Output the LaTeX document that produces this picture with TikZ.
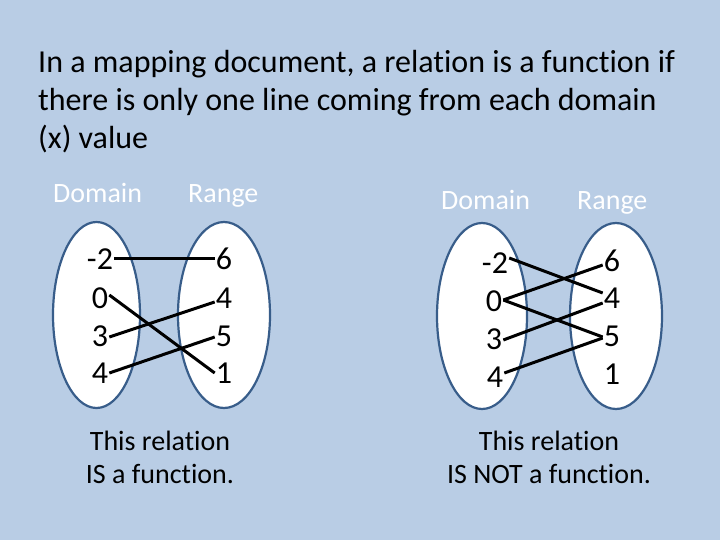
\documentclass[tikz,border=0pt]{standalone}
\usepackage{fontspec}
\setmainfont{Carlito}[RawFeature=-liga]
\definecolor{bg}{RGB}{185,205,229}
\definecolor{edge}{RGB}{56,93,138}
\begin{document}
\begin{tikzpicture}[x=1pt,y=-1pt,
  num/.style={font=\fontsize{32}{34}\selectfont,inner sep=1pt,anchor=center},
  head/.style={font=\fontsize{28}{30}\selectfont,text=white,anchor=base west,inner sep=0pt},
  titleline/.style={font=\fontsize{32}{38}\selectfont,anchor=base west,inner sep=0pt},
  link/.style={line width=3pt,black},
  setshape/.style={fill=white,draw=edge,line width=2.2pt},
  caption/.style={font=\fontsize{28}{33}\selectfont,align=center,anchor=center}]
\fill[bg] (0,0) rectangle (720,540);
\useasboundingbox (0,0) rectangle (720,540);
\node[titleline] (t1) at (38,73) {In a mapping document, a relation is a function if};
\node[titleline] (t2) at (38,111) {there is only one line coming from each domain};
\node[titleline] (t3) at (38,149) {(x) value};
% left panel
\node[head] (hd1) at (53,203) {Domain};
\node[head] (hr1) at (188,203) {Range};
\path[setshape] (96.5,315) ellipse [x radius=43.5, y radius=93];
\path[setshape] (224,315) ellipse [x radius=46, y radius=93];
\node[num] (a1) at (100,259) {-2};
\node[num] (a2) at (100,298) {0};
\node[num] (a3) at (100,336) {3};
\node[num] (a4) at (100,373) {4};
\node[num] (b1) at (224,259) {6};
\node[num] (b2) at (224,298) {4};
\node[num] (b3) at (224,336) {5};
\node[num] (b4) at (224,373) {1};
\draw[link] ([yshift=1pt]a1.east) -- ([yshift=1pt]b1.west);
\draw[link] ([yshift=3pt]a2.east) -- ([yshift=0pt]b4.west);
\draw[link] ([yshift=-1pt]a3.east) -- ([yshift=-4pt]b2.west);
\draw[link] ([yshift=0pt]a4.east) -- ([yshift=-1pt]b3.west);
\node[caption] (c1) at (160,457) {This relation\\IS a function.};
% right panel
\node[head] (hd2) at (441,210) {Domain};
\node[head] (hr2) at (577,210) {Range};
\path[setshape] (482,316) ellipse [x radius=45, y radius=93];
\path[setshape] (616,316) ellipse [x radius=46, y radius=93];
\node[num] (p1) at (495,263) {-2};
\node[num] (p2) at (494,301) {0};
\node[num] (p3) at (494,339) {3};
\node[num] (p4) at (495,377) {4};
\node[num] (q1) at (612,261) {6};
\node[num] (q2) at (612,298) {4};
\node[num] (q3) at (612,336) {5};
\node[num] (q4) at (612,374) {1};
\draw[link] ([yshift=5pt]p1.east) -- ([yshift=5pt]q2.west);
\draw[link] ([yshift=1pt]p2.east) -- ([yshift=-4pt]q1.west);
\draw[link] ([yshift=1pt]p2.east) -- ([yshift=-1pt]q3.west);
\draw[link] ([yshift=-1pt]p3.east) -- ([yshift=-5pt]q2.west);
\draw[link] ([yshift=4pt]p4.east) -- ([yshift=-2pt]q3.west);
\node[caption] (c2) at (549,457) {This relation\\IS NOT a function.};
\end{tikzpicture}
\end{document}
